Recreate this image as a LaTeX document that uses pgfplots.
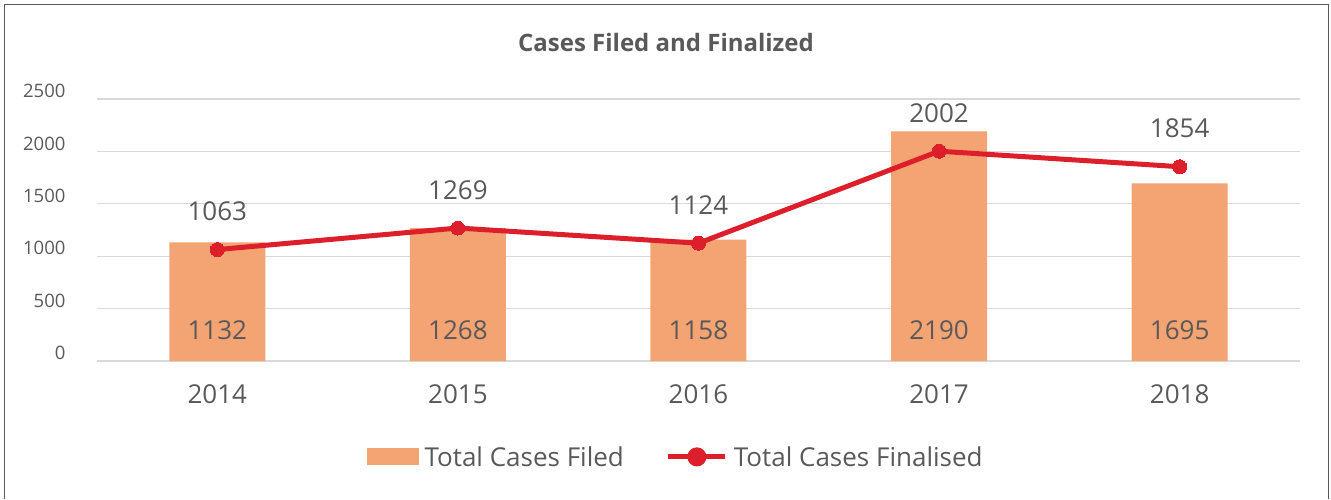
\documentclass[border=0pt]{standalone}
\usepackage{fontspec}
\setmainfont{Open Sans}
\usepackage{pgfplots}
\pgfplotsset{compat=1.18}
\definecolor{barorange}{HTML}{F4A373}
\definecolor{linered}{HTML}{DC1F2B}
\definecolor{txtgray}{HTML}{595959}
\definecolor{gridgray}{HTML}{D9D9D9}
\definecolor{framegray}{HTML}{5A5A5A}

\begin{document}
\begin{tikzpicture}[x=1pt,y=1pt]
\path[use as bounding box] (0,0) rectangle (1331,499);
\draw[framegray,line width=1.5pt] (4.5,0) -- (4.5,494.5) -- (1328.5,494.5) -- (1328.5,0);
\node[txtgray,font=\fontsize{24}{28}\selectfont\bfseries] at (666,456) {Cases Filed and Finalized};
\coordinate (O) at (97,138);
\begin{axis}[
  at={(O)}, anchor=south west,
  scale only axis, width=1203pt, height=262pt,
  xmin=-0.5, xmax=4.5, ymin=0, ymax=2500,
  axis line style={draw=none},
  ymajorgrids, grid style={gridgray,line width=1.2pt},
  ytick={0,500,1000,1500,2000,2500},
  xtick={0,1,2,3,4},
  xticklabels={2014,2015,2016,2017,2018},
  tick style={draw=none},
  yticklabel style={font=\fontsize{18.5}{20}\selectfont, text=txtgray, xshift=-28pt, yshift=8pt},
  xticklabel style={font=\fontsize{26}{30}\selectfont, text=txtgray, yshift=-20pt},
  /pgf/number format/assume math mode=true,
  /pgf/number format/1000 sep={},
  legend style={at={(0.481,-0.366)}, anchor=center, draw=none, fill=none,
    legend columns=2, font=\fontsize{26}{30}\selectfont, text=txtgray,
    /tikz/every even column/.append style={column sep=40pt},
    /tikz/every odd column/.append style={column sep=4pt}},
  legend cell align=left,
]
\addplot[ybar, bar width=96pt, fill=barorange, draw=none,
  area legend,
  legend image code/.code={\fill[barorange] (0pt,-8.5pt) rectangle (52pt,8.5pt);}]
  coordinates {(0,1132) (1,1268) (2,1158) (3,2190) (4,1695)};
\addlegendentry{Total Cases Filed}
\addplot[linered, line width=5pt, mark=*, mark size=7pt,
  mark options={line width=0pt, fill=linered},
  legend image code/.code={\draw[linered,line width=5pt] (0pt,0pt) -- (57pt,0pt);
    \fill[linered] (28.5pt,0pt) circle (7pt);},
  nodes near coords, every node near coord/.append style={font=\fontsize{26}{30}\selectfont, text=txtgray, anchor=center, yshift=38pt}]
  coordinates {(0,1063) (1,1269) (2,1124) (3,2002) (4,1854)};
\addlegendentry{Total Cases Finalised}
\addplot[draw=none, mark=none, forget plot,
  nodes near coords, point meta=explicit symbolic,
  every node near coord/.append style={font=\fontsize{26}{30}\selectfont, text=txtgray, anchor=center}]
  coordinates {(0,290)[1132] (1,290)[1268] (2,290)[1158] (3,290)[2190] (4,290)[1695]};
\end{axis}
\end{tikzpicture}
\end{document}
